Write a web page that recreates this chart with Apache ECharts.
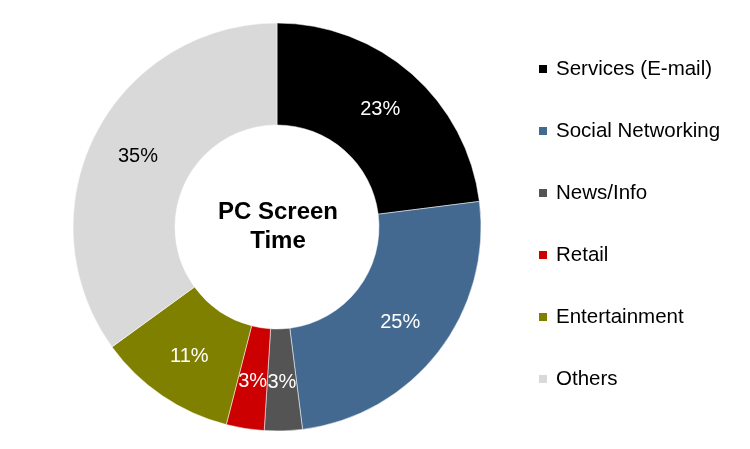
<!DOCTYPE html>
<html>
<head>
<meta charset="utf-8">
<script src="https://cdn.jsdelivr.net/npm/echarts@6/dist/echarts.min.js"></script>
<style>html,body{margin:0;padding:0;background:#fff;}#main{width:750px;height:449px;}</style>
</head>
<body>
<div id="main"></div>
<script>
var categories=['Services (E-mail)','Social Networking','News/Info','Retail','Entertainment','Others'];
var values=[23,25,3,3,11,35];
var colors=['#000000','#436990','#545454','#CC0000','#808000','#D9D9D9'];
var labelColors=['#fff','#fff','#fff','#fff','#fff','#000'];

var myChart=echarts.init(document.getElementById('main'));
var data=[];
for(var i=0;i<categories.length;i++){
  data.push({value:values[i],name:categories[i],
    itemStyle:{color:colors[i]},
    label:{color:labelColors[i]}});
}
var option={
  animation:false,
  textStyle:{fontFamily:'Liberation Sans, Arial, sans-serif'},
  legend:{
    orient:'vertical',
    left:537,
    top:58,
    padding:0,
    itemWidth:10,
    itemHeight:10,
    itemGap:40,
    icon:'rect',
    data:categories,
    textStyle:{fontSize:20.5,color:'#000',lineHeight:22,padding:[0,0,0,3]}
  },
  graphic:[{
    type:'text',
    style:{
      text:'PC Screen\nTime',
      x:278,y:227,
      textAlign:'center',textVerticalAlign:'middle',
      font:'bold 24px Liberation Sans, Arial, sans-serif',
      lineHeight:29,
      fill:'#000'
    }
  }],
  series:[{
    type:'pie',
    center:[277,227],
    radius:[102,204],
    startAngle:90,
    clockwise:true,
    data:data,
    itemStyle:{borderColor:'#fff',borderWidth:0.5},
    label:{
      position:'inside',
      formatter:'{c}%',
      fontSize:20
    },
    labelLine:{show:false}
  }]
};
myChart.setOption(option);
</script>
</body>
</html>
